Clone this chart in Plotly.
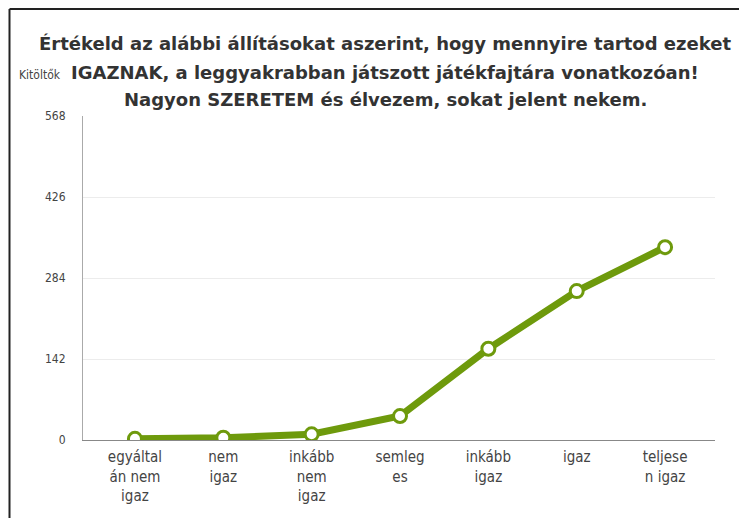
import plotly.graph_objects as go

categories = ["egyáltal<br>án nem<br>igaz", "nem<br>igaz", "inkább<br>nem<br>igaz", "semleg<br>es",
              "inkább<br>igaz", "igaz", "teljese<br>n igaz"]
values = [2, 4, 10, 42, 160, 261, 338]
y_ticks = [0, 142, 284, 426, 568]
title_lines = ["Értékeld az alábbi állításokat aszerint, hogy mennyire tartod ezeket",
               "IGAZNAK, a leggyakrabban játszott játékfajtára vonatkozóan!",
               "Nagyon SZERETEM és élvezem, sokat jelent nekem."]
y_title = "Kitöltők"

green = "#6e9a0c"
xs = list(range(len(categories)))

# page has an 8px body margin; plot area: x 83..715, y 116..440 on the page
W, H = 739, 510
L, T = 75, 108
PW, PH = 632, 324


def px(xp):
    return (xp - 8 - L) / PW


def py(yp):
    return (T + PH - (yp - 8)) / PH


fig = go.Figure()
fig.add_trace(go.Scatter(
    x=xs, y=values, mode="lines+markers",
    line=dict(color=green, width=7),
    marker=dict(size=13, color="white", line=dict(color=green, width=3)),
    hoverinfo="y", showlegend=False,
))

title_y = [44, 72, 99]
annotations = []
for line, yp in zip(title_lines, title_y):
    annotations.append(dict(
        text=line, xref="paper", yref="paper", x=px(385), y=py(yp),
        xanchor="center", yanchor="middle", showarrow=False,
        font=dict(family="DejaVu Sans", size=18, color="#333", weight="bold")))
annotations.append(dict(
    text=y_title, xref="paper", yref="paper", x=px(40), y=py(75),
    xanchor="center", yanchor="middle", showarrow=False,
    font=dict(family="DejaVu Sans Condensed", size=12, color="#444")))

fig.update_layout(
    width=W, height=H,
    margin=dict(l=L, r=W - L - PW, t=T, b=H - T - PH),
    paper_bgcolor="white", plot_bgcolor="white",
    font=dict(family="DejaVu Sans", color="#444"),
    xaxis=dict(
        range=[-0.588, 6.565], tickmode="array", tickvals=xs, ticktext=categories,
        showgrid=False, zeroline=False, showline=True, linecolor="#888", linewidth=1,
        ticks="outside", ticklen=3, tickcolor="rgba(0,0,0,0)",
        tickfont=dict(family="DejaVu Sans Condensed", size=15, color="#444"),
    ),
    yaxis=dict(
        range=[0, 568], tickmode="array", tickvals=y_ticks,
        showgrid=True, gridcolor="#ececec", gridwidth=1, zeroline=False,
        showline=True, linecolor="#aaa", linewidth=1,
        ticks="outside", ticklen=14, tickcolor="rgba(0,0,0,0)",
        tickfont=dict(family="DejaVu Sans Condensed", size=12, color="#444"),
    ),
    annotations=annotations,
    shapes=[
        dict(type="line", xref="paper", yref="paper", x0=px(9.5), x1=px(9.5),
             y0=py(9), y1=py(520), line=dict(color="#222", width=2)),
        dict(type="line", xref="paper", yref="paper", x0=px(9.5), x1=px(760),
             y0=py(9), y1=py(9), line=dict(color="#222", width=2)),
    ],
)

fig.write_html("out.html")
